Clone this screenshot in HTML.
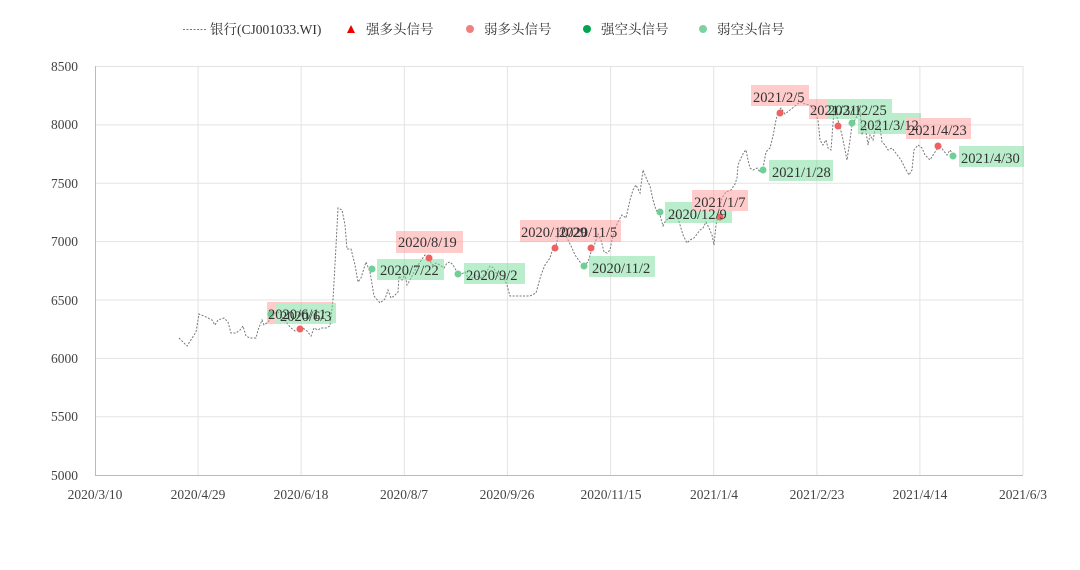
<!DOCTYPE html>
<html><head><meta charset="utf-8"><style>
body{margin:0;background:#fff}
svg{display:block;font-family:"Liberation Serif","Noto Serif CJK SC",serif}
.t{font-size:13.5px;fill:#444}
.l{font-size:14.5px;fill:#333}
.g{font-size:13.5px;fill:#333}
</style></head><body>
<svg width="1080" height="570" viewBox="0 0 1080 570">
<g stroke="#e3e3e3" stroke-width="1">
<line x1="95" y1="66.5" x2="1023" y2="66.5"/><line x1="95" y1="124.9" x2="1023" y2="124.9"/><line x1="95" y1="183.3" x2="1023" y2="183.3"/><line x1="95" y1="241.6" x2="1023" y2="241.6"/><line x1="95" y1="300" x2="1023" y2="300"/><line x1="95" y1="358.4" x2="1023" y2="358.4"/><line x1="95" y1="416.8" x2="1023" y2="416.8"/>
<line x1="198.1" y1="66" x2="198.1" y2="475"/><line x1="301.2" y1="66" x2="301.2" y2="475"/><line x1="404.3" y1="66" x2="404.3" y2="475"/><line x1="507.4" y1="66" x2="507.4" y2="475"/><line x1="610.6" y1="66" x2="610.6" y2="475"/><line x1="713.7" y1="66" x2="713.7" y2="475"/><line x1="816.8" y1="66" x2="816.8" y2="475"/><line x1="919.9" y1="66" x2="919.9" y2="475"/><line x1="1023" y1="66" x2="1023" y2="475"/>
</g>
<line x1="95.5" y1="66" x2="95.5" y2="475" stroke="#bbb"/>
<line x1="95" y1="475.5" x2="1023" y2="475.5" stroke="#bbb"/>
<g class="t" text-anchor="end">
<text x="78" y="71">8500</text><text x="78" y="129">8000</text><text x="78" y="188">7500</text><text x="78" y="246">7000</text><text x="78" y="305">6500</text><text x="78" y="363">6000</text><text x="78" y="421">5500</text><text x="78" y="480">5000</text>
</g>
<g class="t" text-anchor="middle">
<text x="95" y="499">2020/3/10</text><text x="198" y="499">2020/4/29</text><text x="301" y="499">2020/6/18</text><text x="404" y="499">2020/8/7</text><text x="507" y="499">2020/9/26</text><text x="611" y="499">2020/11/15</text><text x="714" y="499">2021/1/4</text><text x="817" y="499">2021/2/23</text><text x="920" y="499">2021/4/14</text><text x="1023" y="499">2021/6/3</text>
</g>
<polyline fill="none" stroke="#777" stroke-width="1" stroke-dasharray="2,1.5" points="179,338 187,346 196,332 199,314 204,316 212,320 215,325 218,320 224,318 228,322 231,333 236,333 240,330 243,326 246,336 250,338 256,338 258,330 262,320 264,325 268,322 271,318 275,313 278,312 283,318 287,323 290,327 295,331 299,329 303,328 307,331 311,336 314,328 318,330 321,328 326,328 330,326 333,300 336,246 338,208 342,210 345,225 347,249 351,249 355,265 358,282 361,278 366,262 370,272 374,296 380,303 385,299 388,290 391,298 394,296 398,292 399,276 402,280 405,274 407,285 410,280 414,272 420,262 425,255 428,256 432,265 436,263 440,265 444,268 447,263 450,262 453,265 457,272 460,275 465,272 468,278 472,278 476,275 480,278 483,276 487,271 490,266 494,268 497,275 500,278 503,276 507,285 510,296 515,296 520,296 525,296 530,296 536,293 541,275 545,265 550,258 553,248 556,246 559,232 563,226 566,236 569,242 572,248 575,255 580,262 583,266 588,262 591,252 594,246 598,234 601,240 604,252 607,253 610,250 612,240 614,232 616,226 619,220 622,215 626,218 630,200 633,190 636,185 640,193 643,170 647,180 650,186 653,200 656,210 660,215 663,226 666,220 670,218 674,215 678,218 683,235 687,243 690,240 694,238 697,234 700,230 703,228 706,222 709,228 712,235 714,245 716,225 718,215 720,205 722,198 726,192 731,190 735,184 737,178 738,165 741,158 744,152 746,150 748,160 750,168 753,170 757,168 760,172 763,168 766,152 770,148 773,136 776,120 778,112 781,108 785,114 790,110 795,106 800,102 805,104 810,105 814,110 818,120 820,140 823,145 826,140 828,148 831,150 834,110 836,115 838,120 842,135 845,150 847,160 850,140 852,125 856,118 860,110 862,135 865,125 868,145 870,135 873,140 876,125 879,120 882,142 885,145 888,150 892,148 895,152 898,156 901,160 905,168 909,175 912,170 914,150 918,145 922,148 925,155 930,160 935,152 940,145 943,150 947,155 950,150 954,156"/>
<g opacity="0.5">
<rect x="267" y="302" width="66" height="22" fill="#f99"/>
<rect x="276" y="303" width="60" height="20" fill="#7d9"/>
<rect x="396" y="231" width="67" height="22" fill="#f99"/>
<rect x="377" y="259" width="67" height="21" fill="#7d9"/>
<rect x="464" y="263" width="61" height="21" fill="#7d9"/>
<rect x="520" y="220" width="72" height="22" fill="#f99"/>
<rect x="558" y="220" width="63" height="22" fill="#f99"/>
<rect x="589" y="256" width="66" height="21" fill="#7d9"/>
<rect x="665" y="202" width="67" height="21" fill="#7d9"/>
<rect x="692" y="190" width="56" height="21" fill="#f99"/>
<rect x="751" y="85" width="58" height="21" fill="#f99"/>
<rect x="769" y="160" width="64" height="21" fill="#7d9"/>
<rect x="809" y="99" width="57" height="20" fill="#f99"/>
<rect x="827" y="99" width="65" height="20" fill="#7d9"/>
<rect x="858" y="113" width="63" height="21" fill="#7d9"/>
<rect x="906" y="118" width="65" height="21" fill="#f99"/>
<rect x="959" y="146" width="65" height="21" fill="#7d9"/>
</g>
<g fill="#f06262">
<circle cx="300" cy="329" r="3.5"/><circle cx="429" cy="258" r="3.5"/><circle cx="555" cy="248" r="3.5"/><circle cx="591" cy="248" r="3.5"/><circle cx="720" cy="217" r="3.5"/><circle cx="780" cy="113" r="3.5"/><circle cx="838" cy="126" r="3.5"/><circle cx="938" cy="146" r="3.5"/>
</g>
<g fill="#6fcf97">
<circle cx="271" cy="314" r="3.5"/><circle cx="372" cy="269" r="3.5"/><circle cx="458" cy="274" r="3.5"/><circle cx="584" cy="266" r="3.5"/><circle cx="660" cy="212" r="3.5"/><circle cx="763" cy="170" r="3.5"/><circle cx="852" cy="123" r="3.5"/><circle cx="953" cy="156" r="3.5"/>
</g>
<g class="l">
<text x="268" y="319">2020/6/11</text><text x="280" y="321">2020/6/3</text>
<text x="398" y="247">2020/8/19</text><text x="380" y="275">2020/7/22</text><text x="466" y="280">2020/9/2</text>
<text x="521" y="237">2020/10/29</text><text x="559" y="237">2020/11/5</text><text x="592" y="273">2020/11/2</text>
<text x="668" y="219">2020/12/9</text><text x="694" y="207">2021/1/7</text>
<text x="753" y="102">2021/2/5</text><text x="772" y="177">2021/1/28</text>
<text x="810" y="115">2021/3/1</text><text x="828" y="115">2021/2/25</text><text x="860" y="130">2021/3/12</text>
<text x="908" y="135">2021/4/23</text><text x="961" y="163">2021/4/30</text>
</g>
<g class="g">
<line x1="183" y1="29.5" x2="207" y2="29.5" stroke="#777" stroke-dasharray="2,1.5"/>
<text x="210" y="34">银行(CJ001033.WI)</text>
<polygon points="351,25 355,33 347,33" fill="#e00"/>
<text x="366" y="34">强多头信号</text>
<circle cx="470" cy="29" r="4" fill="#f08080"/>
<text x="484" y="34">弱多头信号</text>
<circle cx="587" cy="29" r="4" fill="#00a550"/>
<text x="601" y="34">强空头信号</text>
<circle cx="703" cy="29" r="4" fill="#7dd3a0"/>
<text x="717" y="34">弱空头信号</text>
</g>
</svg>
</body></html>
